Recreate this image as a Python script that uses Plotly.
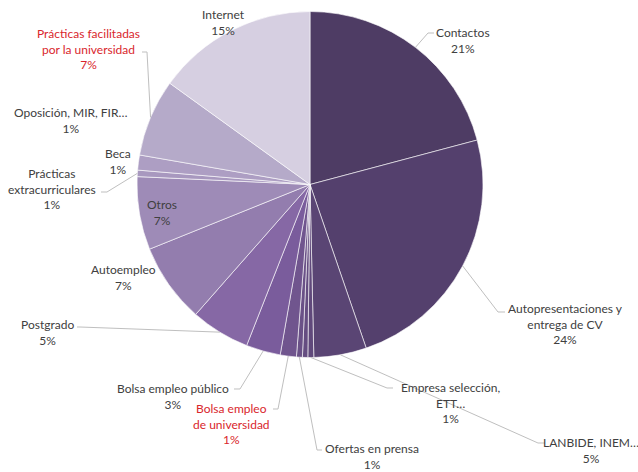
import math
import plotly.graph_objects as go

# ---------------- data ----------------
categories = [
    "Contactos", "Autopresentaciones y entrega de CV", "LANBIDE, INEM…",
    "Empresa selección, ETT…", "Oposición, MIR, FIR…", "Ofertas en prensa",
    "Bolsa empleo de universidad", "Bolsa empleo público", "Postgrado",
    "Autoempleo", "Otros", "Prácticas extracurriculares", "Beca",
    "Prácticas facilitadas por la universidad", "Internet",
]
values = [20.8, 23.8, 4.9, 0.55, 0.5, 0.55, 1.5, 3.2, 5.5, 7.4, 6.8, 0.6, 1.4, 7.2, 15.0]
label_lines = [
    "Contactos", "Autopresentaciones y<br>entrega de CV", "LANBIDE, INEM…",
    "Empresa selección,<br>ETT…", "Oposición, MIR, FIR…", "Ofertas en prensa",
    "Bolsa empleo<br>de universidad", "Bolsa empleo público", "Postgrado",
    "Autoempleo", "Otros", "Prácticas<br>extracurriculares", "Beca",
    "Prácticas facilitadas<br>por la universidad", "Internet",
]
pct_labels = ["21%", "24%", "5%", "1%", "1%", "1%", "1%", "3%", "5%", "7%", "7%", "1%", "1%", "7%", "15%"]
highlight = [False, False, False, False, False, False, True, False, False, False, False, False, False, True, False]

# ---------------- styles / layout ----------------
colors = ["#4e3c64", "#54406d", "#5a4574", "#60497b", "#654d81", "#6a5187", "#70558e",
          "#7a5c9c", "#8668a5", "#937dae", "#9e8bb7", "#a898bf", "#ad9ec3", "#b5aac9", "#d6cfe1"]

W, H = 638, 472
CX, CY, R = 310, 184.5, 173

# label centre (px) and leader elbow points (px) ; None = no leader
label_pos = [
    (463, 40), (565, 324), (591, 450), (450, 403), (70, 121), (372, 456),
    (231, 424), (173, 396), (47, 332), (124, 277), (162, 212), (52, 189),
    (118, 161), (88, 49), (223, 23),
]
elbows = [
    [(428, 33), (434, 33)],
    [(498, 312), (505, 312)],
    [(538, 443), (545, 443)],
    [(387, 388), (393, 388)],
    None,
    [(317, 450), (322, 450)],
    [(278, 409), (273, 409)],
    [(240, 389), (234, 389)],
    [(80, 327), (77, 327)],
    None,
    None,
    [(107, 192), (101, 192)],
    None,
    [(147, 52), (142, 52)],
    None,
]


def px(x):
    return x / W


def py(y):
    return 1 - y / H


fig = go.Figure(go.Pie(
    labels=categories,
    values=values,
    sort=False,
    direction="clockwise",
    rotation=0,
    textinfo="none",
    hoverinfo="label+percent",
    marker=dict(colors=colors, line=dict(color="rgba(255,255,255,0.75)", width=0.8)),
    domain=dict(x=[px(CX - R), px(CX + R)], y=[py(CY + R), py(CY - R)]),
    showlegend=False,
))

total = sum(values)
annotations = []
shapes = []
cum = 0.0
for i, v in enumerate(values):
    mid = 2 * math.pi * (cum + v / 2) / total
    cum += v
    ex = CX + R * math.sin(mid)
    ey = CY - R * math.cos(mid)
    color = "#d9262c" if highlight[i] else "#404040"
    lx, ly = label_pos[i]
    annotations.append(dict(
        x=px(lx), y=py(ly), xref="paper", yref="paper",
        text=f"{label_lines[i]}<br>{pct_labels[i]}",
        showarrow=False, xanchor="center", yanchor="middle", align="center",
        font=dict(family="Lato, Calibri, sans-serif", size=12, color=color),
    ))
    if elbows[i]:
        pts = [(ex, ey)] + elbows[i]
        path = "M " + " L ".join(f"{px(a):.5f},{py(b):.5f}" for a, b in pts)
        shapes.append(dict(type="path", path=path, xref="paper", yref="paper",
                           line=dict(color="#bfbfbf", width=1)))

fig.update_layout(
    width=W, height=H,
    margin=dict(l=0, r=0, t=0, b=0),
    paper_bgcolor="white", plot_bgcolor="white",
    annotations=annotations, shapes=shapes,
)

fig.write_html(
    "out.html",
    config={"displayModeBar": False},
    post_script="document.body.style.margin='0';document.body.style.overflow='hidden';",
)
